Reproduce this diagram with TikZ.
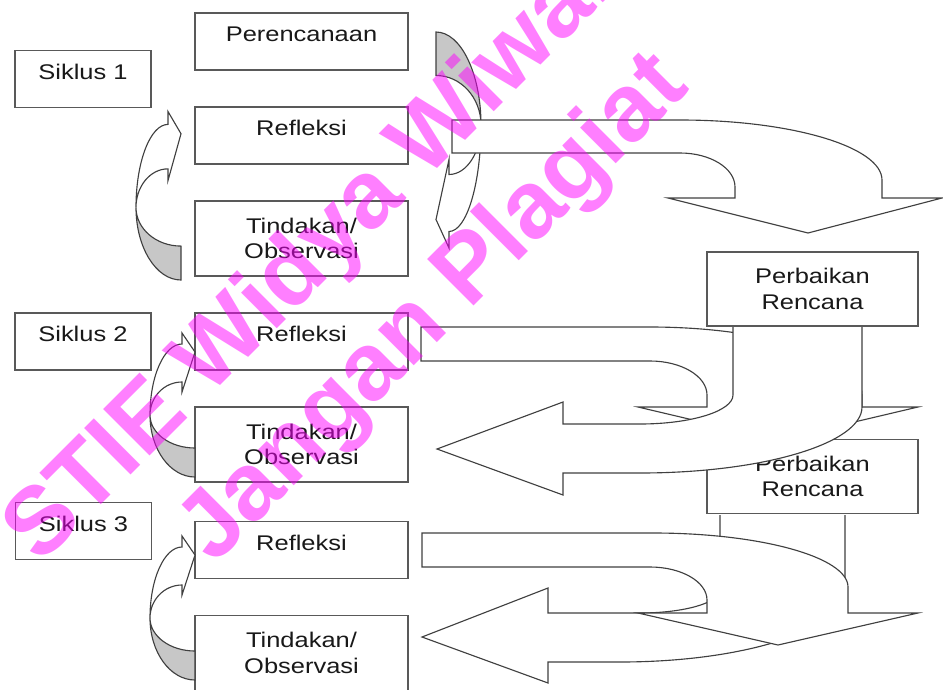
\documentclass[tikz,border=0pt]{standalone}
\usepackage{fontspec}
\setmainfont{Liberation Sans}
\newfontfamily\labelfont{Liberation Sans}[FakeStretch=1.2]
\usetikzlibrary{positioning}
\definecolor{stampink}{RGB}{255,0,255}
\tikzset{
    basebox/.style = {
        rectangle,
        draw=black!65,
        fill=white,
        line width=1.2pt,
        outer sep=0pt,
        text=black!90,
        font=\labelfont\fontsize{16}{19}\selectfont
    },
    stepbox/.style = {
        basebox,
        minimum width=5.645cm,
        minimum height=1.51cm,
        text height=10pt,
        text depth=10pt
    },
    siklusbox/.style = {
        stepbox,
        minimum width=3.6cm
    },
    actbox/.style = {
        basebox,
        align=center,
        minimum width=5.645cm,
        minimum height=1.99cm
    },
    planbox/.style = {
        actbox,
        minimum width=5.59cm,
        minimum height=1.97cm
    },
    band/.style = {
        draw=black!75,
        fill=white,
        line width=0.85pt
    },
    stamp/.style = {
        text=stampink,
        text opacity=0.5,
        inner sep=0pt,
        font=\bfseries\fontsize{72}{80}\selectfont
    },
    twist/.pic = {
        \filldraw[band, fill=black!22] (0,0)
            arc[start angle=-90, end angle=-180, x radius=45, y radius=62]
            arc[start angle=180, end angle=270, x radius=45, y radius=33] -- cycle;
        \filldraw[band] (-45,62)
            arc[start angle=180, end angle=90, x radius=32, y radius=71]
            -- (-13,144) -- (0,125) -- (-13,85) -- (-13,95)
            arc[start angle=90, end angle=180, x radius=32, y radius=33] -- cycle;
    }
}

\begin{document}
\begin{tikzpicture}[x=0.0265cm, y=0.0265cm, node distance=0.98cm and 1.17cm]
\useasboundingbox (0,0) rectangle (943,-689);

% cycle 1: back to planning, then on to the revised plan
\pic[rotate=180, yscale=1.5] at (436,-32) {twist};
\filldraw[band] (452,-120) -- (680,-120)
    arc[start angle=90, end angle=0, x radius=202, y radius=60]
    -- (882,-198) -- (942,-198) -- (808,-233) -- (668,-198) -- (735,-198) -- (735,-187)
    arc[start angle=0, end angle=90, x radius=55, y radius=34] -- (452,-153) -- cycle;

% cycle 2
\filldraw[band] (421,-327) -- (650,-327)
    arc[start angle=90, end angle=0, x radius=212, y radius=68]
    -- (862,-407) -- (918,-407) -- (778,-440) -- (638,-407) -- (707,-407) -- (707,-395)
    arc[start angle=0, end angle=90, x radius=57, y radius=34] -- (421,-361) -- cycle;
\node[planbox] (per2) at (812.5,-476.5) {Perbaikan\\Rencana};
\filldraw[band] (733,-326) -- (733,-395)
    arc[start angle=0, end angle=-90, x radius=93, y radius=29]
    -- (563,-424) -- (563,-402) -- (437,-449) -- (563,-495) -- (563,-473) -- (640,-473)
    arc[start angle=-90, end angle=0, x radius=222, y radius=66] -- (862,-326) -- cycle;
\node[planbox] (per1) at (812.5,-289) {Perbaikan\\Rencana};

% cycle 3
\filldraw[band] (845,-515) -- (845,-590)
    arc[start angle=0, end angle=-90, x radius=225, y radius=72]
    -- (548,-662) -- (548,-683) -- (422,-637) -- (548,-588) -- (548,-613) -- (640,-613)
    arc[start angle=-90, end angle=0, x radius=80, y radius=23] -- (720,-515);
\filldraw[band] (422,-533) -- (653,-533)
    arc[start angle=90, end angle=0, x radius=195, y radius=54]
    -- (848,-613) -- (918,-613) -- (778,-645) -- (638,-613) -- (707,-613) -- (707,-600)
    arc[start angle=0, end angle=90, x radius=57, y radius=33] -- (422,-567) -- cycle;

% stages
\node[siklusbox] (sik1) at (83,-79) {Siklus 1};
\node[stepbox] (ren) at (301.5,-41.5) {Perencanaan};
\node[stepbox, below=of ren] (ref1) {Refleksi};
\node[actbox, below=of ref1] (tin1) {Tindakan/\\Observasi};

\node[stepbox] (ref2) at (301.5,-341.5) {Refleksi};
\node[siklusbox, left=of ref2] (sik2) {Siklus 2};
\node[actbox, below=of ref2] (tin2) {Tindakan/\\Observasi};

\node[siklusbox] (sik3) at (83.5,-531) {Siklus 3};
\node[stepbox] (ref3) at (301.5,-550) {Refleksi};
\node[actbox, below=of ref3] (tin3) {Tindakan/\\Observasi};

\pic[yscale=1.17] at (181,-280) {twist};
\pic at (195,-477) {twist};
\pic at (195,-680) {twist};

% watermark
\begin{scope}
\clip (0,0) rectangle (943,-689);
\node[stamp, rotate=45, anchor=base west] (wm1) at (40,-566) {STIE Widya Wiwaha};
\node[stamp, rotate=45, anchor=base west] (wm2) at (214,-566) {Jangan Plagiat};
\end{scope}
\end{tikzpicture}
\end{document}
